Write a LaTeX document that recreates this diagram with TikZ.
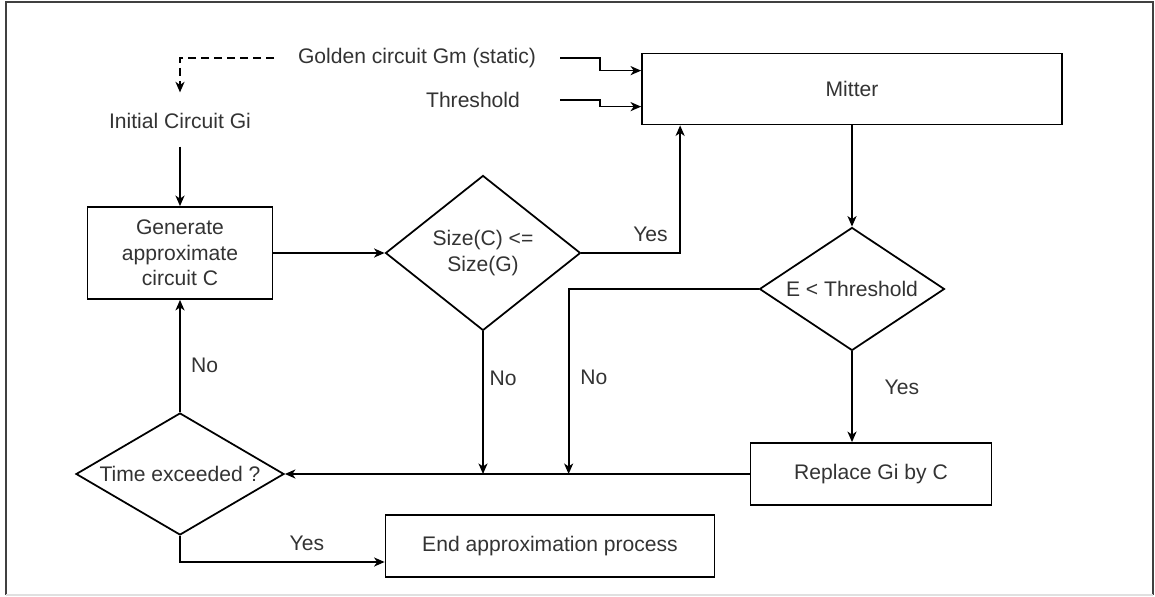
\documentclass[tikz,border=0pt]{standalone}
\usepackage{fontspec}
\setmainfont{Liberation Sans}
\usetikzlibrary{positioning,shapes.geometric}
\usetikzlibrary{arrows.meta}

\begin{document}
\begin{tikzpicture}[on grid, line width = 1pt, >={Stealth[length=2.1mm, width=1.8mm, inset=0.6mm]},
  every node/.style = {font = \fontsize{12}{14.5}\selectfont, text = black!80, align = center},
  box/.style = {rectangle, draw = black, inner sep = 0pt},
  dec/.style = {diamond, draw = black, inner sep = 0pt},
  plain/.style = {inner sep = 0pt}]
  \useasboundingbox (-3.6,5.06) rectangle (19.5,-6.86);
  % frame
  \draw[line width = 1.2pt, black!75] (-3.48,-6.84) -- (-3.48,5.02) -- (19.46,5.02) -- (19.46,-6.84);
  \draw[line width = 1pt, black!12] (-3.48,-6.84) -- (19.46,-6.84);

  \node[box, minimum width = 3.7cm, minimum height = 1.84cm] (Gen) {Generate\\approximate\\circuit C};
  \node[dec, aspect = 1.26, minimum width = 3.9cm, minimum height = 3.1cm, right = 6.06cm of Gen] (Size) {Size(C) <=\\Size(G)};
  \node[plain, above = 2.64cm of Gen] (Init) {Initial Circuit Gi};
  \node[dec, aspect = 1.7, minimum width = 4.16cm, minimum height = 2.44cm, below = 4.42cm of Gen] (Time) {Time exceeded ?};
  \node[box, minimum width = 6.58cm, minimum height = 1.24cm, below right = 1.44cm and 7.4cm of Time] (End) {End approximation process};
  \node[box, minimum width = 8.4cm, minimum height = 1.42cm, above right = 3.28cm and 7.38cm of Size] (Mitter) {Mitter};
  \node[dec, aspect = 1.5, minimum width = 3.7cm, minimum height = 2.46cm, below = 4cm of Mitter] (E) {E < Threshold};
  \node[box, minimum width = 4.82cm, minimum height = 1.24cm, below right = 3.7cm and 0.38cm of E] (Replace) {Replace Gi by C};
  \node[plain, above left = 0.62cm and 8.7cm of Mitter] (Gold) {Golden circuit Gm (static)};
  \node[plain, below right = 0.84cm and 1.12cm of Gold] (Thr) {Threshold};

  \path (E.west) ++(-3.8,0) coordinate (Etap);
  \coordinate (J1) at (Size.south |- Replace.west);
  \coordinate (J2) at (Etap |- Replace.west);

  % inputs
  \draw[->, dash pattern = on 0.16cm off 0.1cm] ([xshift=-0.46cm]Gold.west) -| ([yshift=0.4cm]Init.north);
  \draw[->] ([xshift=-1.62cm]Mitter.west |- Gold.east) -- ++(0.8,0) |- ([yshift=-0.36cm]Mitter.north west);
  \draw[->] ([xshift=-1.62cm]Mitter.west |- Thr.east) -- ++(0.8,0) |- ([yshift=-1.08cm]Mitter.north west);

  % main loop
  \draw[->, shorten <= 0.34cm] (Init) -- (Gen);
  \draw[->] (Gen) -- (Size);
  \draw[->] (Size.east) -| node[pos=0.35, above, yshift=0.1cm] {Yes} ([xshift=0.78cm]Mitter.south west);
  \draw[->] (Mitter) -- (E);
  \draw[->] (E.south) -- node[pos=0.4, right, xshift=0.52cm] {Yes} (E |- Replace.north);
  \draw[->] (E.west) -| node[pos=0.74, right, xshift=0.1cm] {No} (J2);
  \draw[->] (Size.south) -- node[pos=0.33, right] {No} (J1);
  \draw[->] (Replace.west) -- (Time.east);
  \draw[->] (Time.north) -- node[pos=0.42, right, xshift=0.09cm] {No} (Gen.south);
  \draw[->] (Time.south) |- node[pos=0.81, above, yshift=0.1cm] {Yes} ([yshift=-0.32cm]End.west);
\end{tikzpicture}
\end{document}
